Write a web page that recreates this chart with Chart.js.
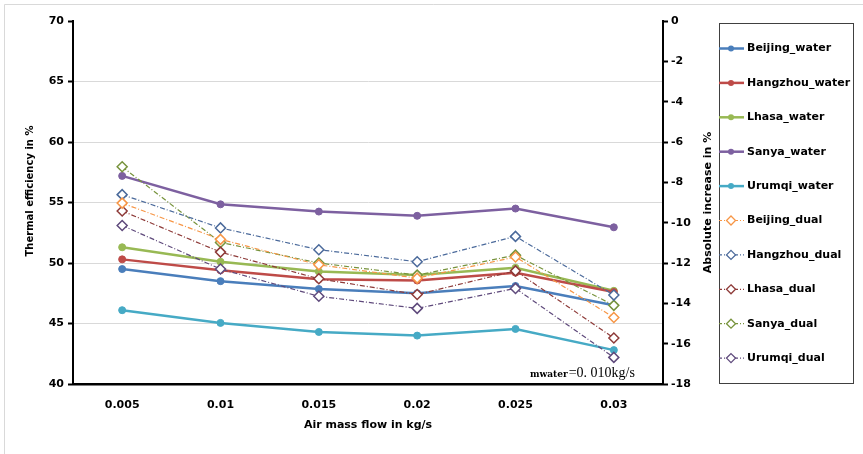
<!DOCTYPE html>
<html>
<head>
<meta charset="utf-8">
<script src="https://cdn.jsdelivr.net/npm/chart.js@4"></script>
<style>
  body { margin: 0; background: #fff; }
  #wrap { width: 863px; height: 454px; }
</style>
</head>
<body>
<div id="wrap"><canvas id="myChart" width="863" height="454"></canvas></div>
<script>
const airFlow = ['0.005', '0.01', '0.015', '0.02', '0.025', '0.03'];

const beijingWater  = [49.5, 48.5, 47.85, 47.5, 48.1, 46.5];
const hangzhouWater = [50.3, 49.4, 48.65, 48.55, 49.2, 47.6];
const lhasaWater    = [51.3, 50.1, 49.3, 49.0, 49.6, 47.7];
const sanyaWater    = [57.2, 54.85, 54.25, 53.9, 54.5, 52.95];
const urumqiWater   = [46.1, 45.05, 44.3, 44.0, 44.55, 42.8];

const beijingDual  = [54.95, 51.95, 49.85, 48.75, 50.5, 45.5];
const hangzhouDual = [55.65, 52.9, 51.1, 50.1, 52.2, 47.35];
const lhasaDual    = [54.3, 50.9, 48.7, 47.4, 49.35, 43.8];
const sanyaDual    = [57.95, 51.7, 50.0, 49.0, 50.65, 46.5];
const urumqiDual   = [53.1, 49.5, 47.25, 46.25, 47.9, 42.2];

const leftTicks = [40, 70, 5];    // min, max, step
const rightTicks = [-18, 0, 2];

Chart.defaults.font.family = 'DejaVu Sans';
Chart.defaults.font.size = 11;
Chart.defaults.font.weight = 'bold';
Chart.defaults.color = '#000';

function waterSet(label, data, color) {
    return {
        label: label,
        data: data,
        borderColor: color,
        backgroundColor: color,
        borderWidth: 2.5,
        pointStyle: 'circle',
        pointRadius: 3.5,
        pointBackgroundColor: color,
        pointBorderColor: color,
        pointBorderWidth: 1,
        tension: 0,
        yAxisID: 'y',
        order: 1,
        kind: 'water'
    };
}

function dualSet(label, data, color) {
    return {
        label: label,
        data: data,
        borderColor: color,
        backgroundColor: '#fff',
        borderWidth: 1.2,
        borderDash: [5, 2, 1, 2],
        pointStyle: 'rectRot',
        pointRadius: 5,
        pointBackgroundColor: '#fff',
        pointBorderColor: color,
        pointBorderWidth: 1.5,
        tension: 0,
        yAxisID: 'y',
        order: 0,
        kind: 'dual'
    };
}

const datasets = [
    waterSet('Beijing_water', beijingWater, '#4A7EBB'),
    waterSet('Hangzhou_water', hangzhouWater, '#BE4B48'),
    waterSet('Lhasa_water', lhasaWater, '#98B954'),
    waterSet('Sanya_water', sanyaWater, '#7D60A0'),
    waterSet('Urumqi_water', urumqiWater, '#46AAC5'),
    dualSet('Beijing_dual', beijingDual, '#F79646'),
    dualSet('Hangzhou_dual', hangzhouDual, '#4B6A9B'),
    dualSet('Lhasa_dual', lhasaDual, '#8E3B39'),
    dualSet('Sanya_dual', sanyaDual, '#77933C'),
    dualSet('Urumqi_dual', urumqiDual, '#5F4A7C')
];

// frame, side titles, note and legend box
const extras = {
    id: 'extras',
    beforeDraw(chart) {
        const c = chart.ctx;
        c.save();
        c.fillStyle = '#fff';
        c.fillRect(0, 0, chart.width, chart.height);
        c.strokeStyle = '#d9d9d9';
        c.lineWidth = 1;
        c.beginPath();
        c.moveTo(4.5, chart.height);
        c.lineTo(4.5, 4.5);
        c.lineTo(chart.width, 4.5);
        c.stroke();
        c.restore();
    },
    afterDraw(chart) {
        const c = chart.ctx;
        const area = chart.chartArea;
        c.save();
        c.fillStyle = '#000';
        c.textAlign = 'center';
        c.textBaseline = 'middle';

        c.save();
        c.font = 'bold 10px "DejaVu Sans"';
        c.translate(30, 191);
        c.rotate(-Math.PI / 2);
        c.fillText('Thermal efficiency in %', 0, 0);
        c.restore();

        c.save();
        c.font = 'bold 11px "DejaVu Sans"';
        c.translate(708, (area.top + area.bottom) / 2);
        c.rotate(-Math.PI / 2);
        c.fillText('Absolute increase in %', 0, 0);
        c.restore();

        // mass flow note
        c.textAlign = 'left';
        c.textBaseline = 'alphabetic';
        c.font = 'bold 9px "DejaVu Serif"';
        c.fillText('mwater', 530, 377);
        const w = c.measureText('mwater').width;
        c.font = '14px "Liberation Serif"';
        c.fillText('=0. 010kg/s', 530 + w + 1, 377);

        // legend
        const lx = 719, ly = 23, lw = 134, lh = 360;
        c.strokeStyle = '#404040';
        c.lineWidth = 1;
        c.strokeRect(lx + 0.5, ly + 0.5, lw, lh);
        c.font = 'bold 11px "DejaVu Sans"';
        c.textBaseline = 'middle';
        chart.data.datasets.forEach((ds, i) => {
            const y = 48.5 + i * 34.4;
            c.save();
            c.strokeStyle = ds.borderColor;
            c.lineWidth = ds.kind === 'water' ? 2.5 : 1.2;
            c.setLineDash(ds.kind === 'water' ? [] : [3, 2, 1, 2]);
            c.beginPath();
            c.moveTo(lx, y);
            c.lineTo(lx + 25, y);
            c.stroke();
            c.setLineDash([]);
            const mx = lx + 12;
            if (ds.kind === 'water') {
                c.fillStyle = ds.borderColor;
                c.beginPath();
                c.arc(mx, y, 3, 0, Math.PI * 2);
                c.fill();
            } else {
                c.fillStyle = '#fff';
                c.lineWidth = 1.3;
                c.beginPath();
                c.moveTo(mx, y - 4.5);
                c.lineTo(mx + 4.5, y);
                c.lineTo(mx, y + 4.5);
                c.lineTo(mx - 4.5, y);
                c.closePath();
                c.fill();
                c.stroke();
            }
            c.restore();
            c.fillStyle = '#000';
            c.fillText(ds.label, lx + 28, y);
        });
        c.restore();
    }
};

const ctx = document.getElementById('myChart').getContext('2d');
const myChart = new Chart(ctx, {
    type: 'line',
    data: {
        labels: airFlow,
        datasets: datasets
    },
    options: {
        responsive: false,
        animation: false,
        layout: {
            padding: { top: 21, right: 148, bottom: 0, left: 0 }
        },
        plugins: {
            legend: { display: false },
            tooltip: { enabled: false }
        },
        scales: {
            x: {
                offset: true,
                grid: { display: false, drawTicks: false },
                border: { display: true, color: '#000', width: 2.5 },
                ticks: { padding: 15 },
                title: {
                    display: true,
                    text: 'Air mass flow in kg/s',
                    padding: { top: 0, bottom: 22 }
                },
                afterFit: (scale) => { scale.height = 70; }
            },
            y: {
                position: 'left',
                min: leftTicks[0],
                max: leftTicks[1],
                ticks: { stepSize: leftTicks[2], padding: 4 },
                grid: {
                    color: (c) => (c.tick.value === 70 || c.tick.value === 40) ? 'rgba(0,0,0,0)' : '#d9d9d9',
                    tickColor: '#000',
                    tickLength: 5,
                    tickWidth: 2,
                    lineWidth: 1
                },
                border: { display: true, color: '#000', width: 2 },
                afterFit: (scale) => { scale.width = 73; }
            },
            y1: {
                position: 'right',
                min: rightTicks[0],
                max: rightTicks[1],
                ticks: { stepSize: rightTicks[2], padding: 3 },
                grid: {
                    drawOnChartArea: false,
                    tickColor: '#000',
                    tickLength: 5,
                    tickWidth: 2
                },
                border: { display: true, color: '#000', width: 2 },
                afterFit: (scale) => { scale.width = 52; }
            }
        }
    },
    plugins: [extras]
});
</script>
</body>
</html>
